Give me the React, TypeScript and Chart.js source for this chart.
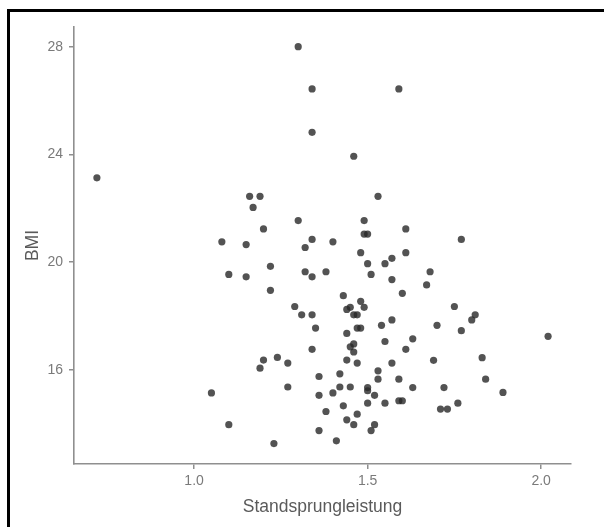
import React, { useEffect, useRef } from "react";
import { Chart, registerables } from "chart.js";

Chart.register(...registerables);

const standsprung: number[] = [
  0.72, 1.30, 1.34, 1.59, 1.34, 1.46, 1.16, 1.19, 1.53, 1.17,
  1.20, 1.30, 1.49, 1.49, 1.50, 1.61, 1.08, 1.15, 1.34, 1.32,
  1.40, 1.48, 1.61, 1.77, 1.10, 1.15, 1.22, 1.32, 1.34, 1.38,
  1.50, 1.55, 1.57, 1.51, 1.57, 1.68, 1.67, 1.22, 1.43, 1.60,
  1.48, 1.29, 1.75, 1.44, 1.45, 1.49, 1.31, 1.34, 1.46, 1.47,
  1.81, 1.80, 1.57, 1.54, 1.70, 1.35, 1.47, 1.48, 1.77, 1.44,
  2.02, 1.55, 1.63, 1.46, 1.45, 1.34, 1.61, 1.46, 1.20, 1.24,
  1.27, 1.19, 1.44, 1.47, 1.57, 1.69, 1.83, 1.53, 1.53, 1.59,
  1.84, 1.36, 1.42, 1.27, 1.42, 1.45, 1.50, 1.50, 1.52, 1.63,
  1.72, 1.89, 1.05, 1.36, 1.40, 1.50, 1.55, 1.59, 1.60, 1.76,
  1.43, 1.38, 1.47, 1.71, 1.73, 1.44, 1.46, 1.52, 1.51, 1.10,
  1.36, 1.41, 1.23,
];

const bmi: number[] = [
  23.13, 28.0, 26.43, 26.43, 24.82, 23.93, 22.44, 22.44, 22.44, 22.03,
  21.23, 21.54, 21.54, 21.04, 21.04, 21.23, 20.75, 20.65, 20.84, 20.54,
  20.75, 20.35, 20.35, 20.84, 19.54, 19.45, 19.84, 19.64, 19.45, 19.64,
  19.94, 19.94, 20.14, 19.54, 19.35, 19.64, 19.15, 18.95, 18.75, 18.84,
  18.54, 18.35, 18.35, 18.24, 18.32, 18.32, 18.04, 18.04, 18.04, 18.04,
  18.04, 17.85, 17.85, 17.65, 17.65, 17.55, 17.55, 17.55, 17.45, 17.35,
  17.24, 17.05, 17.15, 16.96, 16.85, 16.76, 16.76, 16.66, 16.36, 16.46,
  16.25, 16.06, 16.36, 16.25, 16.25, 16.35, 16.45, 15.96, 15.65, 15.65,
  15.65, 15.75, 15.85, 15.36, 15.36, 15.36, 15.34, 15.22, 15.05, 15.34,
  15.34, 15.16, 15.14, 15.05, 15.14, 14.76, 14.76, 14.85, 14.85, 14.76,
  14.66, 14.45, 14.35, 14.54, 14.54, 14.14, 13.96, 13.96, 13.74, 13.96,
  13.74, 13.36, 13.26,
];

const xTicks: number[] = [1.0, 1.5, 2.0];
const yTicks: number[] = [16, 20, 24, 28];
const xTitle = "Standsprungleistung";
const yTitle = "BMI";

export default function App() {
  const ref = useRef<HTMLCanvasElement | null>(null);

  useEffect(() => {
    if (!ref.current) return;
    const points = standsprung.map((x, i) => ({ x, y: bmi[i] }));
    const font = "'Liberation Sans', Arial, sans-serif";
    const axisColor = "#8f8f8f";
    const chart = new Chart(ref.current, {
      type: "scatter",
      data: {
        datasets: [
          {
            data: points,
            backgroundColor: "rgba(40,40,40,0.8)",
            borderWidth: 0,
            pointRadius: 3.6,
            pointHoverRadius: 3.6,
          },
        ],
      },
      options: {
        animation: false,
        responsive: true,
        maintainAspectRatio: false,
        layout: { padding: { top: 27, right: 37, bottom: 0, left: 0 } },
        plugins: { legend: { display: false }, tooltip: { enabled: false } },
        scales: {
          x: {
            type: "linear",
            min: 0.654,
            max: 2.086,
            afterBuildTicks: (s: any) => {
              s.ticks = xTicks.map((v) => ({ value: v }));
            },
            afterFit: (s: any) => {
              s.height = 63;
            },
            ticks: {
              color: "#7a7a7a",
              font: { family: font, size: 14 },
              padding: 4,
              callback: (v: any) => Number(v).toFixed(1),
            },
            grid: {
              drawOnChartArea: false,
              drawTicks: true,
              tickLength: 5,
              color: axisColor,
              lineWidth: 1.5,
            },
            border: { display: true, color: axisColor, width: 1.6 },
            title: {
              display: true,
              text: xTitle,
              color: "#5a5a5a",
              font: { family: font, size: 17.5 },
              padding: { top: 0, bottom: 9.5 },
            },
          },
          y: {
            type: "linear",
            min: 12.5,
            max: 28.73,
            afterBuildTicks: (s: any) => {
              s.ticks = yTicks.map((v) => ({ value: v }));
            },
            afterFit: (s: any) => {
              s.width = 74;
            },
            ticks: {
              color: "#7a7a7a",
              font: { family: font, size: 14 },
              padding: 6,
            },
            grid: {
              drawOnChartArea: false,
              drawTicks: true,
              tickLength: 5,
              color: axisColor,
              lineWidth: 1.5,
            },
            border: { display: true, color: axisColor, width: 1.6 },
            title: {
              display: true,
              text: yTitle,
              color: "#5a5a5a",
              font: { family: font, size: 17.5 },
              padding: { top: 22.5, bottom: 0 },
            },
          },
        },
      },
    });
    return () => chart.destroy();
  }, []);

  return (
    <div
      style={{
        position: "fixed",
        left: 0,
        top: 0,
        width: 608,
        height: 527,
        background: "#fff",
        overflow: "hidden",
      }}
    >
      <canvas ref={ref} />
      <div
        style={{
          position: "absolute",
          left: 7,
          top: 9,
          width: 594,
          height: 540,
          borderLeft: "3px solid #000",
          borderTop: "3px solid #000",
          pointerEvents: "none",
        }}
      />
    </div>
  );
}
